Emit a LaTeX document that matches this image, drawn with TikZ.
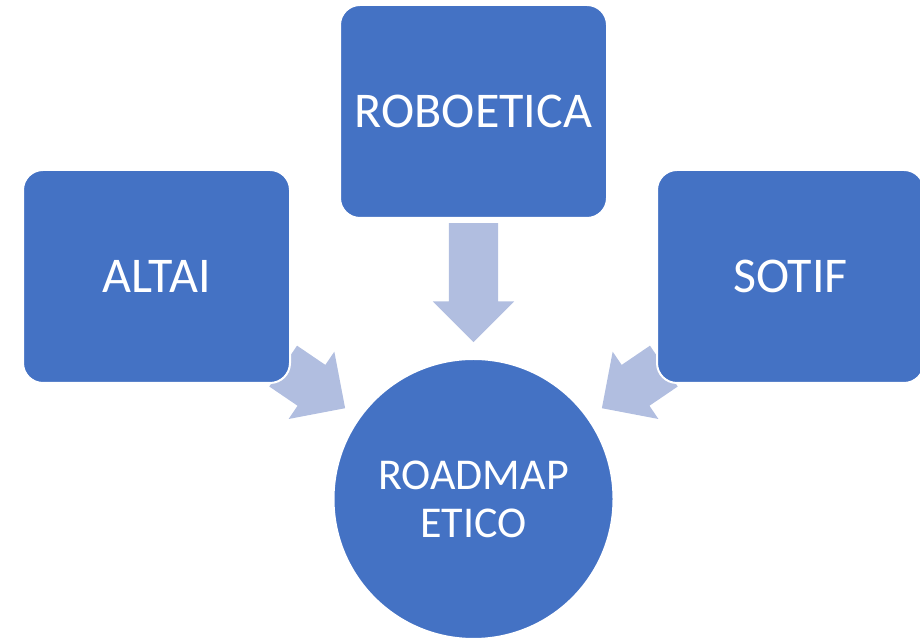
\documentclass[tikz,border=0pt]{standalone}
\usepackage{fontspec}
\setmainfont{Carlito}
\usetikzlibrary{shapes.arrows,calc,backgrounds}
\definecolor{boxblue}{HTML}{4472C4}
\definecolor{arrowblue}{HTML}{B1BEE0}
\begin{document}
\begin{tikzpicture}[x=1pt, y=1pt]
% Sizes taken from the slide (1pt = 1px)
\def\boxw{267pt}
\def\boxh{213pt}
\def\circd{280pt}
\providecommand{\boxRadius}{20pt}
\providecommand{\edgeWidth}{2pt}
% Block arrow between two named points
\providecommand{\blockarrow}[2]{%
  \path let \p1=(#1), \p2=(#2), \n1={veclen(\x2-\x1,\y2-\y1)}, \n2={atan2(\y2-\y1,\x2-\x1)} in
    node[flowarrow, minimum height=\n1, rotate=\n2, anchor=tail] at (#1) {};}
\tikzset{
  topicbox/.style={draw=white, line width=\edgeWidth, fill=boxblue, rounded corners=\boxRadius,
    minimum width=\boxw, minimum height=\boxh, inner sep=0pt, text=white,
    font=\fontsize{50}{58}\selectfont},
  goalcircle/.style={circle, draw=white, line width=\edgeWidth, fill=boxblue, minimum size=\circd,
    inner sep=0pt, text=white, align=center, font=\fontsize{44}{48}\selectfont},
  flowarrow/.style={single arrow, fill=arrowblue, minimum width=81pt,
    single arrow head extend=16pt, inner xsep=0pt, inner ysep=24.5pt}
}
\useasboundingbox (0,0) rectangle (920,639);
% Sources and goal
\node[topicbox] (robo) at (473.5,527.5) {ROBOETICA};
\node[topicbox] (altai) at (156.5,362.5) {ALTAI};
\node[topicbox] (sotif) at (790.5,362.5) {SOTIF};
\node[goalcircle] (road) at (473.5,140) {ROADMAP\\ETICO};
% Arrow ends
\coordinate (robo-out) at ([yshift=-4pt]robo.south);
\coordinate (robo-in) at ([yshift=16pt]road.north);
\coordinate (altai-out) at ([shift={(-8,18)}]altai.south east);
\coordinate (altai-in) at ([shift={(-13,10)}]road.145);
\coordinate (sotif-out) at ([shift={(8,18)}]sotif.south west);
\coordinate (sotif-in) at ([shift={(13,10)}]road.35);
% Arrows under the boxes
\begin{pgfonlayer}{background}
  \blockarrow{robo-out}{robo-in}
  \blockarrow{altai-out}{altai-in}
  \blockarrow{sotif-out}{sotif-in}
\end{pgfonlayer}
\end{tikzpicture}
\end{document}
